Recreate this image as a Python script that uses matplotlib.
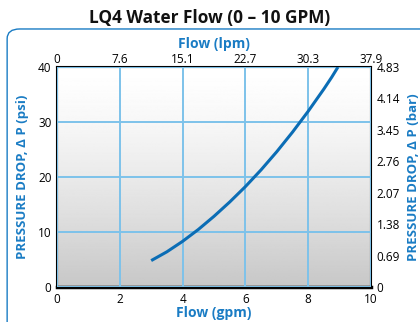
import matplotlib.pyplot as plt
import numpy as np
from matplotlib.patches import FancyBboxPatch

# curve
flow_gpm = [3.0, 3.5, 4.0, 4.5, 5.0, 5.5, 6.0, 6.5, 7.0, 7.5, 8.0, 8.5, 8.75, 8.95]
drop_psi = [4.8, 6.4, 8.3, 10.45, 12.85, 15.45, 18.25, 21.3, 24.6, 28.15, 31.95, 36.0, 38.15, 40.0]

gpm_ticks = [0, 2, 4, 6, 8, 10]
lpm_labels = ['0', '7.6', '15.1', '22.7', '30.3', '37.9']
psi_ticks = [0, 10, 20, 30, 40]
bar_labels = ['0', '0.69', '1.38', '2.07', '2.76', '3.45', '4.14', '4.83']

BLUE = '#1a7cc4'
LINE = '#0b6db5'
GRID = '#7dc2ea'

plt.rcParams['font.family'] = ['Open Sans', 'DejaVu Sans']

fig = plt.figure(figsize=(4.2, 3.22), dpi=100)
ax = fig.add_axes([0.1357, 0.1087, 0.7476, 0.6833])

# outer rounded frame
frame = FancyBboxPatch((0.017, -0.05), 1.2, 0.96, boxstyle='round,pad=0,rounding_size=0.03',
                       transform=fig.transFigure, fill=False, edgecolor=BLUE, lw=1.0)
fig.add_artist(frame)

# gradient background of the plot area (white at top, grey at bottom)
t = np.linspace(0, 1, 256).reshape(-1, 1)
grad = 1.0 - 0.22 * (1 - t) ** 1.4
ax.imshow(grad, extent=[0, 10, 0, 40], origin='lower', aspect='auto', cmap='gray',
          vmin=0, vmax=1, zorder=0)

ax.set_xlim(0, 10)
ax.set_ylim(0, 40)
ax.set_xticks(gpm_ticks)
ax.set_yticks(psi_ticks)
ax.grid(True, color=GRID, lw=1.4, zorder=1)
ax.set_axisbelow(False)
ax.plot(flow_gpm, drop_psi, color=LINE, lw=2.2, solid_capstyle='butt', zorder=3)

for s in ax.spines.values():
    s.set_linewidth(1.5)
    s.set_color('black')
ax.spines['bottom'].set_linewidth(2.5)
ax.tick_params(length=0, labelsize=8.5, pad=4)

ax.set_xlabel('Flow (gpm)', color=BLUE, fontsize=10, fontweight='bold', labelpad=0)
ax.set_ylabel('PRESSURE DROP, \u0394 P (psi)', color=BLUE, fontsize=9.5, fontweight='bold',
              labelpad=6)

top = ax.twiny()
top.set_xlim(0, 10)
top.set_xticks(gpm_ticks)
top.set_xticklabels(lpm_labels)
top.tick_params(length=0, labelsize=8.5, pad=1)
top.set_xlabel('Flow (lpm)', color=BLUE, fontsize=10, fontweight='bold', labelpad=3)

right = ax.twinx()
right.set_ylim(0, 40)
right.set_yticks([40 * k / 7 for k in range(8)])
right.set_yticklabels(bar_labels)
right.tick_params(length=0, labelsize=8.5, pad=4)
right.set_ylabel('PRESSURE DROP, \u0394 P (bar)', color=BLUE, fontsize=9.5, fontweight='bold',
                 labelpad=5)
for a in (top, right):
    for s in a.spines.values():
        s.set_visible(False)

fig.text(0.5, 0.945, 'LQ4 Water Flow (0 \u2013 10 GPM)', ha='center', va='center',
         fontsize=12.4, fontweight='bold', color='#111111')

fig.savefig('out.png', dpi=100)
plt.close()
